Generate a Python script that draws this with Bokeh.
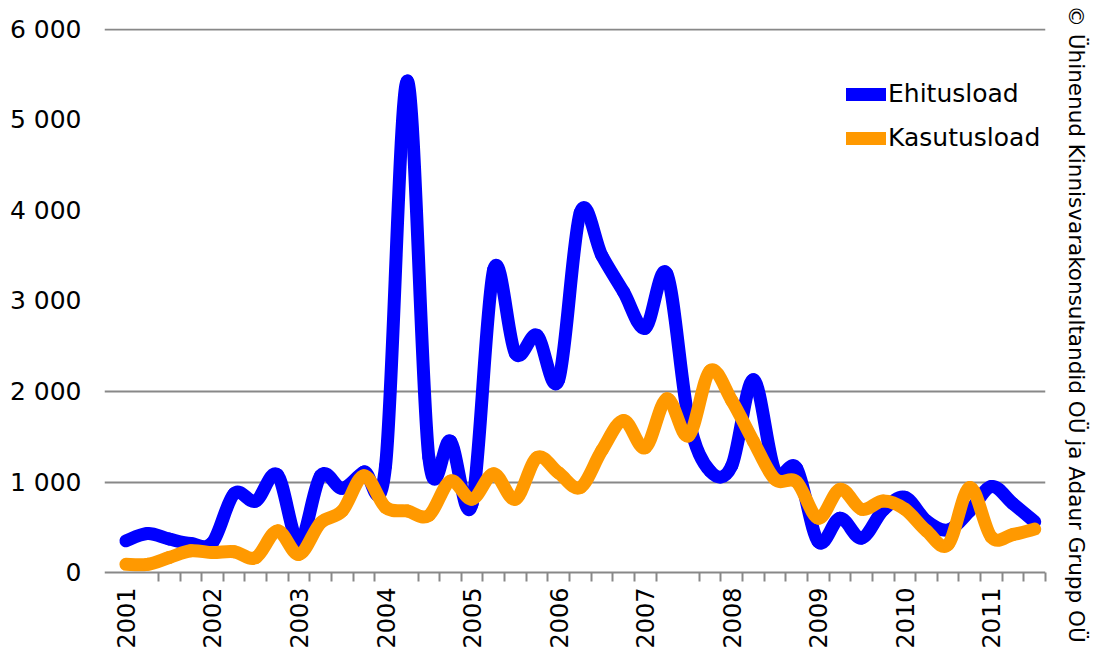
import numpy as np
from bokeh.plotting import figure
from bokeh.models import (Range1d, FixedTicker, ColumnDataSource, Title, Span,
                          Legend, LegendItem)
from bokeh.embed import file_html
from bokeh.resources import INLINE

# Quarterly counts of permits, 2001 Q1 .. 2011 Q3
years = ["2001", "2002", "2003", "2004", "2005", "2006",
         "2007", "2008", "2009", "2010", "2011"]
ehitusload = [350, 430, 370, 320, 330, 870, 790, 1080, 330, 1070,
              930, 1110, 1180, 5430, 1270, 1450, 760, 3350, 2420, 2620,
              2130, 3980, 3500, 3100, 2700, 3300, 1700, 1120, 1180, 2130,
              1120, 1150, 340, 600, 380, 690, 830, 570, 470, 680,
              950, 760, 560]
kasutusload = [90, 90, 165, 240, 220, 230, 165, 460, 200, 550,
               680, 1070, 720, 680, 630, 1010, 810, 1090, 810, 1270,
               1100, 940, 1350, 1680, 1380, 1920, 1510, 2230, 1900, 1450,
               1030, 1000, 600, 920, 700, 790, 700, 460, 310, 940,
               390, 420, 480]
y_ticks = [0, 1000, 2000, 3000, 4000, 5000, 6000]
y_tick_labels = ["0", "1 000", "2 000", "3 000", "4 000", "5 000", "6 000"]
COPYRIGHT = "© Ühinenud Kinnisvarakonsultandid OÜ ja Adaur Grupp OÜ"

FONT = "DejaVu Sans"
GRID = "#888888"


def smooth_segments(vals):
    """Cubic Bezier segments through the points (Catmull-Rom style tangents)."""
    v = np.asarray(vals, dtype=float)
    n = len(v)
    xs = np.arange(n, dtype=float)
    i = np.arange(n - 1)
    prev = np.clip(i - 1, 0, n - 1)
    nxt2 = np.clip(i + 2, 0, n - 1)
    return ColumnDataSource(dict(
        x0=xs[i], y0=v[i], x1=xs[i + 1], y1=v[i + 1],
        cx0=xs[i] + (xs[i + 1] - xs[prev]) / 6.0,
        cy0=v[i] + (v[i + 1] - v[prev]) / 6.0,
        cx1=xs[i + 1] - (xs[nxt2] - xs[i]) / 6.0,
        cy1=v[i + 1] - (v[nxt2] - v[i]) / 6.0,
    ))


# the frame reaches a few pixels below zero so the quarter ticks can hang
# under the zero line
p = figure(width=1109, height=652, output_backend="svg", toolbar_location=None,
           x_range=Range1d(-0.99, 42.5), y_range=Range1d(-99.4, 6011),
           min_border_left=104, min_border_right=64,
           min_border_top=28, min_border_bottom=71)
p.outline_line_color = None
p.background_fill_color = "white"
p.border_fill_color = "white"

# horizontal grid and the zero line
p.xgrid.visible = False
p.ygrid.ticker = FixedTicker(ticks=[1000, 2000, 6000])
p.ygrid.grid_line_color = GRID
p.ygrid.grid_line_width = 2
p.add_layout(Span(location=0, dimension="width", line_color=GRID, line_width=2))

# y axis: labels only
yax = p.yaxis[0]
yax.ticker = FixedTicker(ticks=y_ticks)
yax.major_label_overrides = {t: s for t, s in zip(y_ticks, y_tick_labels)}
yax.axis_line_color = None
yax.major_tick_line_color = None
yax.minor_tick_line_color = None
yax.major_label_standoff = 17
yax.major_label_text_font = FONT
yax.major_label_text_font_size = "25px"
yax.major_label_text_color = "black"

# x axis: year labels on first quarters, tick marks on quarter boundaries
n = len(ehitusload)
year_pos = [4 * k for k in range(len(years))]
boundaries = [k + 0.5 for k in range(-1, n) if k + 0.5 not in (-0.5, 0.5, 12.5, 25.5)]
xax = p.xaxis[0]
xax.ticker = FixedTicker(ticks=year_pos, minor_ticks=boundaries)
xax.major_label_overrides = {pos: y for pos, y in zip(year_pos, years)}
xax.major_label_orientation = np.pi / 2
xax.axis_line_color = None
xax.major_tick_line_color = None
xax.major_tick_in = 0
xax.major_tick_out = 0
xax.minor_tick_line_color = GRID
xax.minor_tick_line_width = 2
xax.minor_tick_in = 9
xax.minor_tick_out = 0
xax.major_label_standoff = 6
xax.major_label_text_font = FONT
xax.major_label_text_font_size = "24px"
xax.major_label_text_color = "black"

r_blue = p.bezier(x0="x0", y0="y0", x1="x1", y1="y1", cx0="cx0", cy0="cy0",
                  cx1="cx1", cy1="cy1", source=smooth_segments(ehitusload),
                  line_color="#0000FF", line_width=13, line_cap="round")
r_orange = p.bezier(x0="x0", y0="y0", x1="x1", y1="y1", cx0="cx0", cy0="cy0",
                    cx1="cx1", cy1="cy1", source=smooth_segments(kasutusload),
                    line_color="#FF9900", line_width=13, line_cap="round")

legend = Legend(items=[LegendItem(label="Ehitusload", renderers=[r_blue]),
                       LegendItem(label="Kasutusload", renderers=[r_orange])],
                location=(742, 429), glyph_width=40, glyph_height=26,
                label_height=26, label_standoff=2, spacing=15, padding=0, margin=0,
                label_text_font=FONT, label_text_font_size="25px",
                label_text_color="black",
                border_line_color=None, background_fill_alpha=0)
p.add_layout(legend)

p.add_layout(Title(text=COPYRIGHT, align="left", offset=-23, standoff=36,
                   text_font=FONT, text_font_size="21.5px",
                   text_font_style="normal", text_color="black"), "right")

open("out.html", "w").write(file_html(p, INLINE))
